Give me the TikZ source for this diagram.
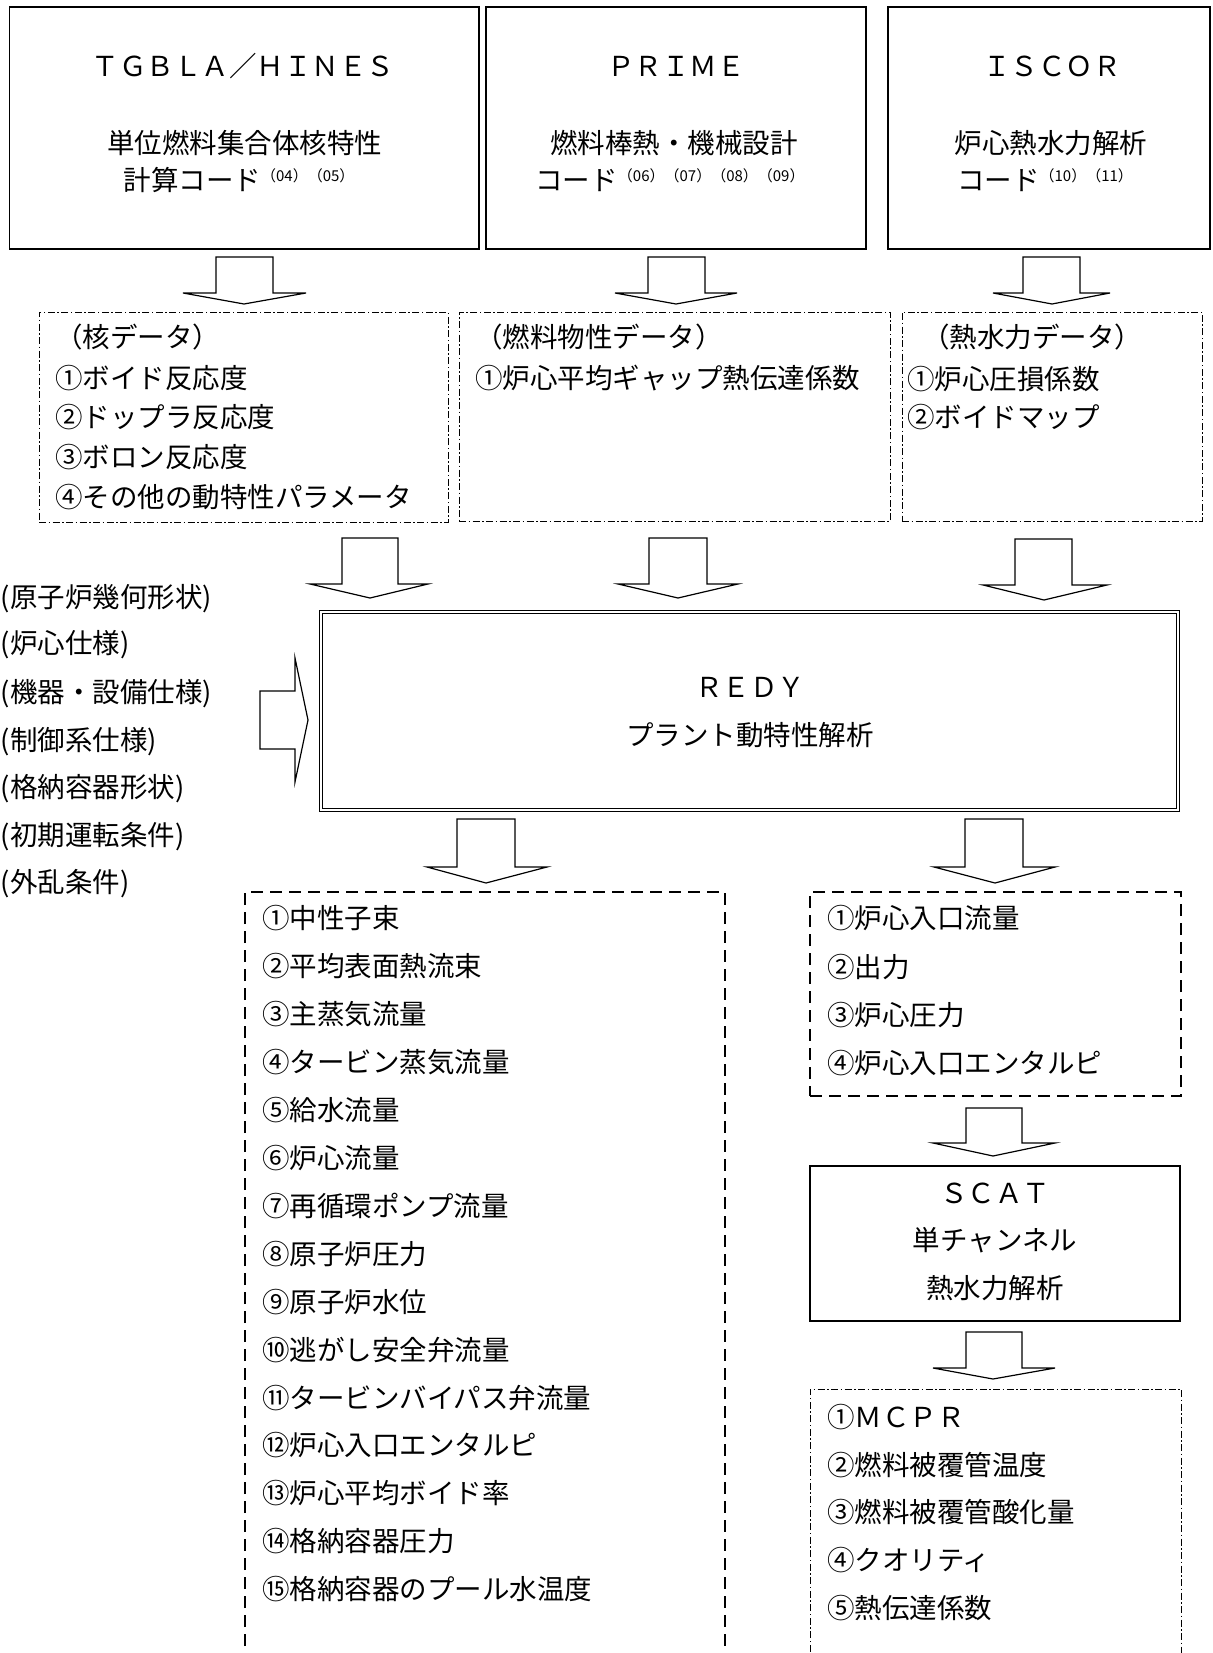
\documentclass[tikz,border=0pt]{standalone}
\usepackage{fontspec}
\setmainfont{Noto Sans CJK JP}
\usetikzlibrary{fit}
\newcommand\fsz{\fontsize{27.5pt}{30pt}\selectfont}
\newcommand\mysup[1]{\raisebox{9pt}{\fontsize{15pt}{16pt}\selectfont #1}}
\newcommand\bdown[8]{\draw[blockarrow] (#1,#3) -- (#1,#6) -- (#4,#6) -- (#7,#8) -- (#5,#6) -- (#2,#6) -- (#2,#3) -- cycle;}
\tikzset{
  solidbox/.style={draw, line width=1.2pt, inner sep=0pt, outer sep=0pt},
  dashdotbox/.style={draw, line width=1pt, dash pattern=on 7pt off 2.5pt on 1.5pt off 2.5pt, inner sep=0pt, outer sep=0pt},
  dashbox/.style={draw, line width=1.8pt, dash pattern=on 12pt off 7pt, inner sep=0pt, outer sep=0pt},
  doublebox/.style={draw, line width=1pt, double=white, double distance=2.5pt, inner sep=0pt, outer sep=0pt},
  blockarrow/.style={draw, fill=white, line width=1.2pt, line join=miter},
  jt/.style={inner sep=0pt, outer sep=0pt, font=\fsz, anchor=base west},
  jc/.style={inner sep=0pt, outer sep=0pt, font=\fsz, anchor=base},
}
\begin{document}
\begin{tikzpicture}[x=1pt,y=-1pt]
\useasboundingbox (0,0) rectangle (1212,1653);

% ---------- top code boxes ----------
\node[solidbox, fit={(9.5,7) (479,249)}] (tgbla) {};
\node[solidbox, fit={(486,7) (866,249)}] (prime) {};
\node[solidbox, fit={(888,7) (1210,249)}] (iscor) {};

\node[jc] (tgblaT) at (243,77) {ＴＧＢＬＡ／ＨＩＮＥＳ};
\node[jc] (tgblaA) at (244.5,153.5) {単位燃料集合体核特性};
\node[jc] (tgblaB) at (239,190.5) {計算コード\mysup{（04）（05）}};

\node[jc] (primeT) at (676,77) {ＰＲＩＭＥ};
\node[jc] (primeA) at (674,153.5) {燃料棒熱・機械設計};
\node[jc] (primeB) at (670,190.5) {コード\mysup{（06）（07）（08）（09）}};

\node[jc] (iscorT) at (1052,77) {ＩＳＣＯＲ};
\node[jc] (iscorA) at (1051,153.5) {炉心熱水力解析};
\node[jc] (iscorB) at (1045,190.5) {コード\mysup{（10）（11）}};

% ---------- arrows to data boxes ----------
\bdown{216}{273}{257}{183}{306}{293}{244}{304}
\bdown{648}{705}{257}{615}{737}{293}{676}{304}
\bdown{1023}{1080}{257}{993}{1110}{293}{1052}{304}

% ---------- data boxes ----------
\node[dashdotbox, fit={(39,312) (448,522)}] (kaku) {};
\node[dashdotbox, fit={(459,312) (890,521)}] (nenryo) {};
\node[dashdotbox, fit={(902,312) (1202,521)}] (netsu) {};

\node[jt] (k0) at (55,347.5) {（核データ）};
\node[jt] (k1) at (55,388.5) {①ボイド反応度};
\node[jt] (k2) at (55,427.5) {②ドップラ反応度};
\node[jt] (k3) at (55,467.5) {③ボロン反応度};
\node[jt] (k4) at (55,507.5) {④その他の動特性パラメータ};

\node[jt] (n0) at (475,347.5) {（燃料物性データ）};
\node[jt] (n1) at (475,388.5) {①炉心平均ギャップ熱伝達係数};

\node[jt] (t0) at (922,347.5) {（熱水力データ）};
\node[jt] (t1) at (907,389.5) {①炉心圧損係数};
\node[jt] (t2) at (907,427.5) {②ボイドマップ};

% ---------- arrows into REDY ----------
\bdown{342}{398}{538}{310}{428}{584}{370}{598}
\bdown{649}{707}{538}{618}{738}{584}{678}{598}
\bdown{1015}{1072}{539}{983}{1107}{585}{1044}{600}

% ---------- REDY ----------
\node[doublebox, fit={(321,612) (1178,810)}] (redy) {};
\node[jc] (redyT) at (750,697) {ＲＥＤＹ};
\node[jc] (redyA) at (750,745.5) {プラント動特性解析};

% ---------- left inputs ----------
\node[jt] (in1) at (1,607.5) {(原子炉幾何形状)};
\node[jt] (in2) at (1,653.5) {(炉心仕様)};
\node[jt] (in3) at (1,702.5) {(機器・設備仕様)};
\node[jt] (in4) at (1,750.5) {(制御系仕様)};
\node[jt] (in5) at (1,797.5) {(格納容器形状)};
\node[jt] (in6) at (1,845.5) {(初期運転条件)};
\node[jt] (in7) at (1,892.5) {(外乱条件)};

\draw[blockarrow] (260,691) -- (295,691) -- (295,658) -- (308,720) -- (295,782) -- (295,749) -- (260,749) -- cycle;

% ---------- arrows out of REDY ----------
\bdown{457}{515}{819}{427}{547}{867}{486}{883}
\bdown{965}{1023}{819}{934}{1055}{867}{995}{883}

% ---------- left output box (open at bottom) ----------
\draw[dashbox] (245,1665) -- (245,892) -- (725,892) -- (725,1665);
\coordinate (outL) at (485,892);
\foreach \i/\txt in {0/①中性子束,1/②平均表面熱流束,2/③主蒸気流量,3/④タービン蒸気流量,4/⑤給水流量,5/⑥炉心流量,6/⑦再循環ポンプ流量,7/⑧原子炉圧力,8/⑨原子炉水位,9/⑩逃がし安全弁流量,10/⑪タービンバイパス弁流量,11/⑫炉心入口エンタルピ,12/⑬炉心平均ボイド率,13/⑭格納容器圧力,14/⑮格納容器のプール水温度}{
  \node[jt] (o\i) at (262,{928.5+47.95*\i}) {\txt};
}

% ---------- right output box ----------
\node[dashbox, fit={(810,892) (1181,1096)}] (outR) {};
\node[jt] (r1) at (827,928.5) {①炉心入口流量};
\node[jt] (r2) at (827,977.5) {②出力};
\node[jt] (r3) at (827,1025.5) {③炉心圧力};
\node[jt] (r4) at (827,1073.5) {④炉心入口エンタルピ};

\bdown{966}{1022}{1108}{933}{1055}{1143}{993}{1156}

% ---------- SCAT ----------
\node[solidbox, fit={(810,1166) (1180,1321)}] (scat) {};
\node[jc] (scatT) at (995,1203) {ＳＣＡＴ};
\node[jc] (scatA) at (995,1250.5) {単チャンネル};
\node[jc] (scatB) at (995,1298.5) {熱水力解析};

\bdown{966}{1022}{1332}{933}{1055}{1368}{993}{1379}

% ---------- SCAT output (open at bottom) ----------
\draw[dashdotbox] (810,1665) -- (810,1389) -- (1181,1389) -- (1181,1665);
\coordinate (outS) at (995,1389);
\node[jt] (s1) at (827,1427.5) {①ＭＣＰＲ};
\node[jt] (s2) at (827,1475.5) {②燃料被覆管温度};
\node[jt] (s3) at (827,1522.5) {③燃料被覆管酸化量};
\node[jt] (s4) at (827,1570.5) {④クオリティ};
\node[jt] (s5) at (827,1618.5) {⑤熱伝達係数};
\end{tikzpicture}
\end{document}
